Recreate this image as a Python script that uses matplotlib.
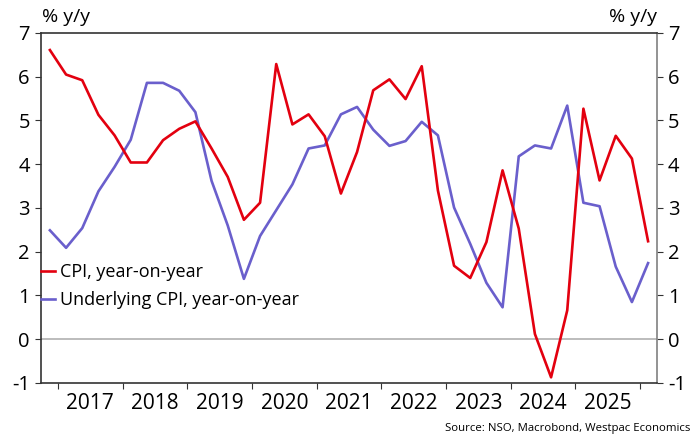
import matplotlib.pyplot as plt
import numpy as np
import pandas as pd

plt.rcParams['font.family'] = ['Open Sans', 'DejaVu Sans']
plt.rcParams['axes.unicode_minus'] = False

# quarterly y/y inflation, 2016Q4 - 2026Q1
quarters = pd.period_range("2016Q4", "2026Q1", freq="Q")
cpi = [6.61, 6.05, 5.92, 5.13, 4.66, 4.04, 4.04, 4.55, 4.81, 4.98,
       4.36, 3.71, 2.73, 3.12, 6.29, 4.91, 5.14, 4.64, 3.33, 4.28,
       5.69, 5.94, 5.49, 6.24, 3.40, 1.68, 1.40, 2.22, 3.86, 2.53,
       0.12, -0.87, 0.66, 5.27, 3.63, 4.65, 4.13, 2.24]
underlying = [2.49, 2.09, 2.54, 3.38, 3.94, 4.56, 5.86, 5.86, 5.68, 5.19,
              3.62, 2.60, 1.38, 2.36, 2.95, 3.54, 4.36, 4.43, 5.14, 5.31,
              4.79, 4.42, 4.53, 4.97, 4.66, 3.01, 2.18, 1.29, 0.73, 4.18,
              4.43, 4.36, 5.34, 3.12, 3.04, 1.66, 0.85, 1.74]
years = list(range(2017, 2026))

# put each quarter in the middle of its span on a decimal-year axis
x = np.array([q.year + (q.quarter - 0.5) / 4 for q in quarters])

red = "#E3000F"
purple = "#6A5FCC"

fig = plt.figure(figsize=(6.97, 4.37), dpi=100)
ax = fig.add_axes([0.0588, 0.1236, 0.8838, 0.8009])

ax.axhline(0, color="#b0b0b0", lw=1.2, zorder=1)
ax.plot(x, cpi, color=red, lw=1.9, label="CPI, year-on-year", zorder=3)
ax.plot(x, underlying, color=purple, lw=1.9, label="Underlying CPI, year-on-year", zorder=2)

ax.set_xlim(2016.737, 2026.263)
ax.set_ylim(-1, 7)

# year ticks on the boundaries, labels centred in each year
ax.set_xticks(range(2017, 2027))
ax.set_xticklabels([])
ax.set_xticks([y + 0.5 for y in years], minor=True)
ax.set_xticklabels([str(y) for y in years], minor=True, fontsize=15)
ax.tick_params(axis="x", which="major", direction="out", length=4, color="#333333")
ax.tick_params(axis="x", which="minor", length=0, pad=7)

ax.set_yticks(range(-1, 8))
ax.tick_params(axis="y", direction="out", length=4, labelsize=14.5, color="#333333",
               labelleft=True, labelright=True, left=True, right=True, pad=4)

for side in ["left", "bottom", "top"]:
    ax.spines[side].set_color("#333333")
    ax.spines[side].set_linewidth(1.2)
ax.spines["right"].set_color("#808080")
ax.spines["right"].set_linewidth(1.2)

fig.text(0.06, 0.962, "% y/y", fontsize=14, ha="left", va="center")
fig.text(0.942, 0.962, "% y/y", fontsize=14, ha="right", va="center")

ax.legend(loc="upper left", bbox_to_anchor=(0.0, 0.343), frameon=False, fontsize=13,
          handlelength=0.75, handletextpad=0.3, borderaxespad=0, borderpad=0,
          labelspacing=0.55)

fig.text(0.99, 0.02, "Source: NSO, Macrobond, Westpac Economics", fontsize=8.2,
         ha="right", va="center")

plt.savefig("out.png", dpi=100)
